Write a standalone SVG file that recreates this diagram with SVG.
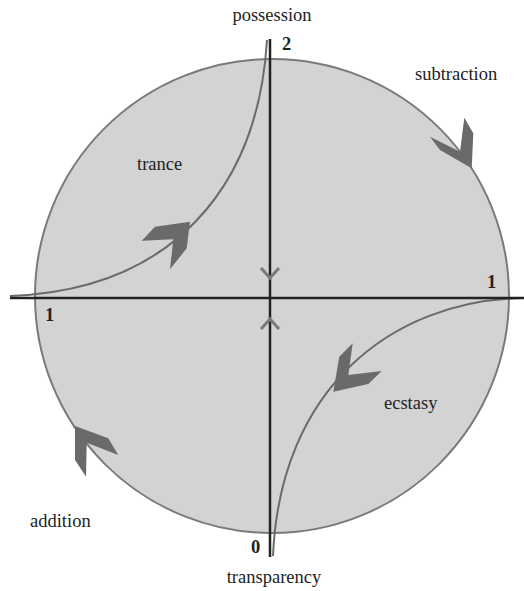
<svg xmlns="http://www.w3.org/2000/svg" width="524" height="591" viewBox="0 0 524 591">
<style>
text{font-family:"Liberation Serif","Times New Roman",serif;font-size:18.5px;fill:#222}
.num{font-weight:bold}
.axis{stroke:#222;stroke-width:2.5;fill:none}
.curve{stroke:#6a6a6a;stroke-width:2;fill:none}
.head{fill:#6a6a6a}
.small{stroke:#7a7a7a;stroke-width:3;fill:none}
</style>
<rect width="524" height="591" fill="#fff"/>
<g id="disc">
<circle cx="272" cy="296" r="237" fill="#d3d3d3" stroke="#7a7a7a" stroke-width="2"/>
</g>
<g id="connectors">
<path class="curve" d="M10 296 C170 290 258 190 267 40"/>
<path class="curve" d="M524 298 C390 300 280 390 273 556"/>
<line class="axis" x1="10" y1="298" x2="524" y2="298"/>
<line class="axis" x1="270" y1="39" x2="270" y2="557"/>
<polyline class="small" points="261,268 270,278 279,268"/>
<polyline class="small" points="261,329 270,319 279,329"/>
</g>
<g id="trance-arrow"><polygon class="head" points="141.7,240.7 155,226.7 190,221.7 186.7,248.3 170,269.3 173.3,239.3"/></g>
<g id="ecstasy-arrow"><polygon class="head" points="333.3,391.7 339.3,356.7 352.7,343.3 348.3,375 381.7,371 368.3,384"/></g>
<g id="subtraction-arrow"><polygon class="head" points="430,136.7 460,151.7 464.3,117.7 473.3,133.3 471.7,168.3 440,150"/></g>
<g id="addition-arrow"><polygon class="head" points="75,426 108.3,438.3 118.3,455 86.7,442.7 86,476.7 75,460"/></g>
<g id="possession"><text x="272" y="21" text-anchor="middle">possession</text></g>
<g id="n2"><text class="num" x="282" y="50">2</text></g>
<g id="subtraction"><text x="415" y="80">subtraction</text></g>
<g id="trance"><text x="137" y="170">trance</text></g>
<g id="n1-left"><text class="num" x="45" y="321">1</text></g>
<g id="n1-right"><text class="num" x="487" y="288">1</text></g>
<g id="ecstasy"><text x="384" y="409">ecstasy</text></g>
<g id="addition"><text x="30" y="527">addition</text></g>
<g id="n0"><text class="num" x="251" y="553">0</text></g>
<g id="transparency"><text x="274" y="583" text-anchor="middle">transparency</text></g>
</svg>
